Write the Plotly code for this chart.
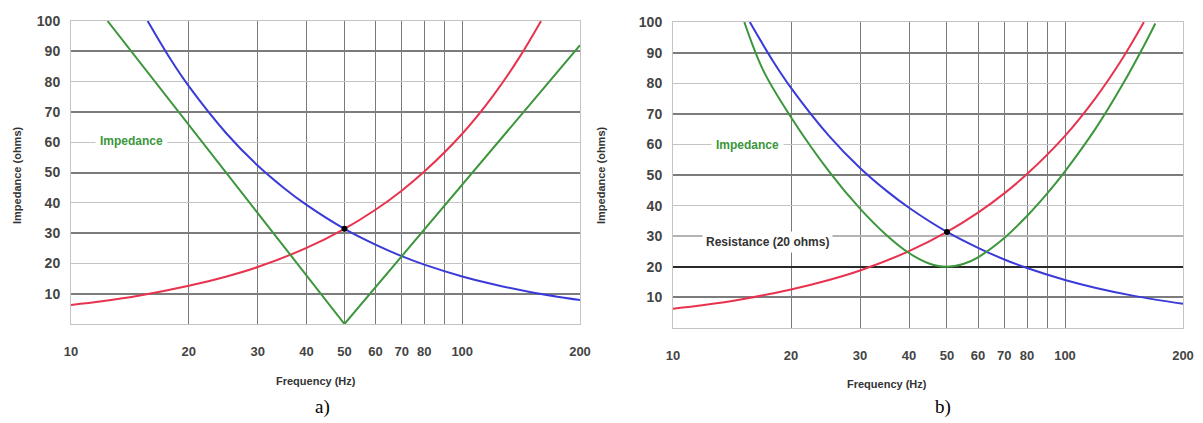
import plotly.graph_objects as go
import math

# ---------------- data ----------------
freq_xl = [10, 12, 15, 20, 25, 30, 40, 50, 60, 70, 80, 100, 120, 140, 159]
xl_vals = [6.3, 7.5, 9.4, 12.6, 15.7, 18.8, 25.1, 31.4, 37.7, 44.0, 50.3, 62.8, 75.4, 88.0, 100]

freq_xc = [15.7, 18, 20, 25, 30, 35, 40, 50, 60, 70, 80, 100, 120, 150, 200]
xc_vals = [100, 87.2, 78.5, 62.8, 52.3, 44.9, 39.3, 31.4, 26.2, 22.4, 19.6, 15.7, 13.1, 10.5, 7.9]

freq_za = [12.4, 50, 200]
za_vals = [100, 0, 92]

freq_zb = [15.2, 17, 20, 25, 30, 35, 40, 45, 50, 55, 60, 70, 80, 90, 100, 120, 140, 160, 170]
zb_vals = [100, 84.1, 68.9, 51.2, 39.0, 30.4, 24.5, 21.1, 20.0, 20.9, 23.1, 29.4, 36.6, 43.9, 51.2, 65.4, 79.4, 92.9, 99.5]

resonance_f = [50]
resonance_z = [31.4]

x_tickvals = [10, 20, 30, 40, 50, 60, 70, 80, 90, 100, 200]
x_ticktext = ["10", "20", "30", "40", "50", "60", "70", "80", "", "100", "200"]
y_tickvals = [10, 20, 30, 40, 50, 60, 70, 80, 90, 100]
dark_grid_a = [10, 30, 50, 70, 90]
dark_grid_b = [10, 50, 70, 90]
resistance = [20]
grey_thick_b = [30]

# ---------------- style ----------------
OFF = 8                      # default page body margin
W, H = 1203 - OFF, 423 - OFF
RED, BLUE, GREEN = "#e8334f", "#3a3ad8", "#3c963c"
def px(x): return (x - OFF) / W
def py(y): return 1 - (y - OFF) / H

fig = go.Figure()

def curves(xa, ya, zf, zv):
    fig.add_trace(go.Scatter(x=freq_xl, y=xl_vals, mode="lines", line=dict(color=RED, width=2, shape="spline"),
                             xaxis=xa, yaxis=ya, showlegend=False))
    fig.add_trace(go.Scatter(x=freq_xc, y=xc_vals, mode="lines", line=dict(color=BLUE, width=2, shape="spline"),
                             xaxis=xa, yaxis=ya, showlegend=False))
    fig.add_trace(go.Scatter(x=zf, y=zv, mode="lines",
                             line=dict(color=GREEN, width=2, shape="spline" if len(zf) > 3 else "linear"),
                             xaxis=xa, yaxis=ya, showlegend=False))
    fig.add_trace(go.Scatter(x=resonance_f, y=resonance_z, mode="markers",
                             marker=dict(color="black", size=6), xaxis=xa, yaxis=ya, showlegend=False))

# empty traces so the overlay grid axes get drawn
for xa, ya in [("x", "y3"), ("x2", "y4"), ("x2", "y5"), ("x2", "y6")]:
    fig.add_trace(go.Scatter(x=[], y=[], xaxis=xa, yaxis=ya, showlegend=False, hoverinfo="skip"))

curves("x", "y", freq_za, za_vals)
curves("x2", "y2", freq_zb, zb_vals)

xtickfont = dict(family="Liberation Sans, Arial", size=13, color="#444", weight="bold")
ytickfont = dict(family="Liberation Sans, Arial", size=14, color="#444", weight="bold")
xcommon = dict(type="log", range=[1, math.log10(200)], tickvals=x_tickvals, ticktext=x_ticktext,
               showgrid=True, gridcolor="#7a7a7a", gridwidth=1, showline=True, linecolor="#c4c4c4",
               mirror=True, ticks="", tickfont=xtickfont, ticklabelstandoff=15, zeroline=False,
               automargin=False)
ycommon = dict(range=[0, 100], tickvals=y_tickvals, showgrid=True, gridcolor="#c4c4c4", gridwidth=1,
               showline=True, linecolor="#c4c4c4", mirror=True, ticks="", tickfont=ytickfont,
               ticklabelstandoff=7, zeroline=False, automargin=False)

def overlay(base, anchor, vals, color, width):
    return dict(overlaying=base, anchor=anchor, range=[0, 100], tickvals=vals, showgrid=True,
                gridcolor=color, gridwidth=width, showticklabels=False, ticks="", showline=False,
                zeroline=False, automargin=False)

fig.update_layout(
    width=W, height=H, margin=dict(l=0, r=0, t=0, b=0, autoexpand=False),
    paper_bgcolor="white", plot_bgcolor="white",
    xaxis=dict(domain=[px(71), px(580)], anchor="y", **xcommon),
    yaxis=dict(domain=[py(324), py(21)], anchor="x", **ycommon),
    xaxis2=dict(domain=[px(673), px(1183)], anchor="y2", **xcommon),
    yaxis2=dict(domain=[py(328), py(22)], anchor="x2", **ycommon),
    yaxis3=overlay("y", "x", dark_grid_a, "#7c7c7c", 2),
    yaxis4=overlay("y2", "x2", dark_grid_b, "#7c7c7c", 2),
    yaxis5=overlay("y2", "x2", grey_thick_b, "#b4b4b4", 2),
    yaxis6=overlay("y2", "x2", resistance, "#2a2a2a", 2),
)

bold = "Liberation Sans, Arial"
ann = []
def A(text, x, y, size=11, color="#333", angle=0, family=bold, bg=None, pad=0):
    d = dict(text=text, x=px(x), y=py(y), xref="paper", yref="paper", showarrow=False,
             font=dict(family=family, size=size, color=color), textangle=angle,
             xanchor="center", yanchor="middle")
    if bg:
        d.update(bgcolor=bg, borderpad=pad)
    ann.append(d)

A("<b>Impedance (ohms)</b>", 17, 175, size=11, angle=-90)
A("<b>Impedance (ohms)</b>", 601, 175, size=11, angle=-90)
A("<b>Frequency (Hz)</b>", 316, 381, size=11)
A("<b>Frequency (Hz)</b>", 887, 384, size=11)
A("<b>Impedance</b>", 131, 141, size=12, color=GREEN, bg="white", pad=4)
A("<b>Impedance</b>", 748, 145, size=12, color=GREEN, bg="white", pad=4)
A("<b>Resistance (20 ohms)</b>", 767, 242, size=12, color="#333", bg="white", pad=3)
A("a)", 322, 407, size=19, color="black", family="Liberation Serif, DejaVu Serif")
A("b)", 943, 407, size=19, color="black", family="Liberation Serif, DejaVu Serif")
fig.update_layout(annotations=ann)

fig.write_html("out.html")
